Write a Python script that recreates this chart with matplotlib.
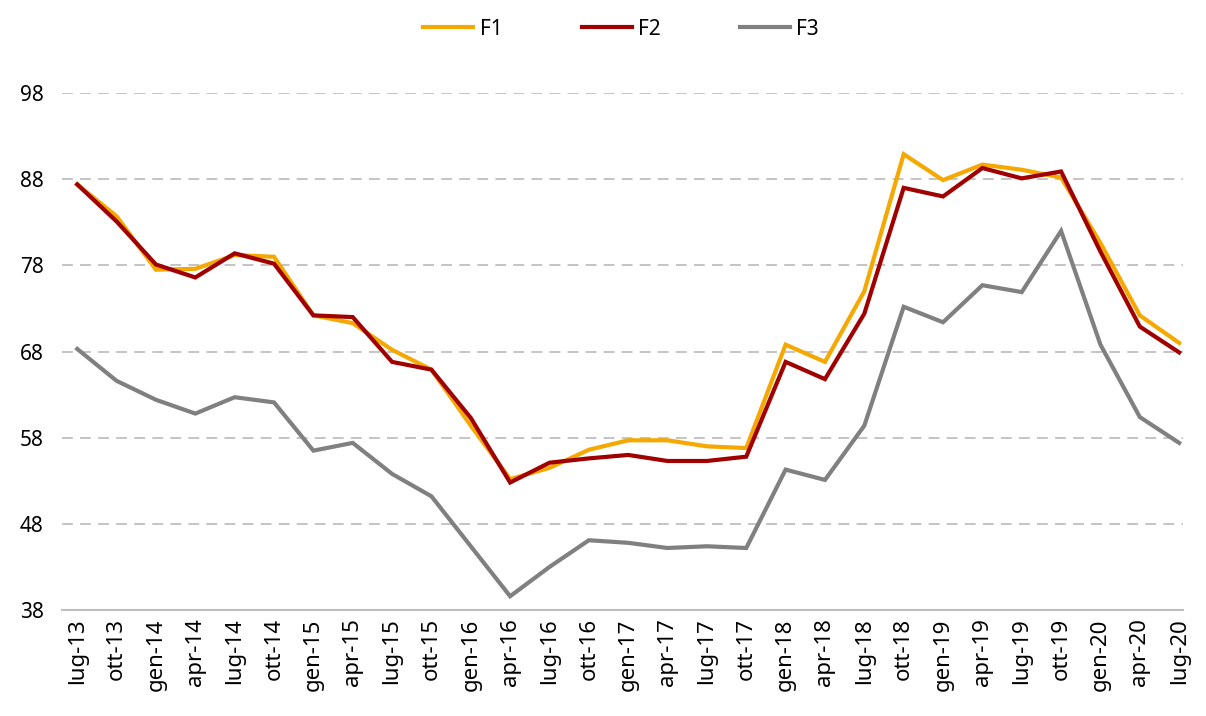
import numpy as np
from matplotlib import pyplot as plt

plt.rcParams['font.family'] = ['Noto Sans', 'DejaVu Sans']

labels = ['lug-13', 'ott-13', 'gen-14', 'apr-14', 'lug-14', 'ott-14', 'gen-15', 'apr-15',
          'lug-15', 'ott-15', 'gen-16', 'apr-16', 'lug-16', 'ott-16', 'gen-17', 'apr-17',
          'lug-17', 'ott-17', 'gen-18', 'apr-18', 'lug-18', 'ott-18', 'gen-19', 'apr-19',
          'lug-19', 'ott-19', 'gen-20', 'apr-20', 'lug-20']

f1 = [87.4, 83.7, 77.5, 77.6, 79.2, 79.0, 72.2, 71.3, 68.2, 65.9, 59.4, 53.2, 54.5, 56.6, 57.7,
      57.7, 57.0, 56.8, 68.8, 66.8, 75.0, 90.9, 87.9, 89.7, 89.1, 88.2, 80.6, 72.2, 69.0]
f2 = [87.4, 83.1, 78.1, 76.6, 79.4, 78.2, 72.2, 72.0, 66.8, 65.9, 60.3, 52.8, 55.1, 55.6, 56.0,
      55.3, 55.3, 55.8, 66.8, 64.8, 72.4, 87.0, 86.0, 89.3, 88.1, 88.9, 79.6, 70.9, 67.9]
f3 = [68.3, 64.6, 62.4, 60.8, 62.7, 62.1, 56.5, 57.4, 53.8, 51.2, 45.4, 39.6, 43.0, 46.1, 45.8,
      45.2, 45.4, 45.2, 54.3, 53.1, 59.4, 73.2, 71.4, 75.7, 74.9, 82.0, 68.8, 60.4, 57.4]

x = np.arange(len(labels))

fig = plt.figure(figsize=(12.06, 7.16), dpi=100)
ax = fig.add_axes([0.051, 0.148, 0.93, 0.722])

ax.plot(x, f1, color='#F5A800', lw=3, label='F1', solid_joinstyle='miter')
ax.plot(x, f2, color='#A00000', lw=3, label='F2', solid_joinstyle='miter')
ax.plot(x, f3, color='#808080', lw=3, label='F3', solid_joinstyle='miter')

ax.set_ylim(38, 98)
ax.set_yticks(np.arange(38, 99, 10))
ax.set_xlim(-0.4, 28.1)
ax.set_xticks(x)
ax.set_xticklabels(labels, rotation=90, fontsize=16)
ax.tick_params(axis='y', labelsize=15, length=0, pad=30)
ax.tick_params(axis='x', length=0, pad=6)

ax.yaxis.grid(True, color='#BFBFBF', linestyle=(0, (6, 4)), lw=1.3)
ax.set_axisbelow(True)
for s in ['top', 'right', 'left']:
    ax.spines[s].set_visible(False)
ax.spines['bottom'].set_color('#BFBFBF')
ax.spines['bottom'].set_linewidth(1.5)
for t in ax.get_yticklabels():
    t.set_horizontalalignment('left')

fig.legend(loc='upper center', bbox_to_anchor=(0.515, 1.0), ncol=3, frameon=False,
           fontsize=15, handlelength=2.4, columnspacing=3.8, handletextpad=0.3)

fig.savefig('out.png', dpi=100)
